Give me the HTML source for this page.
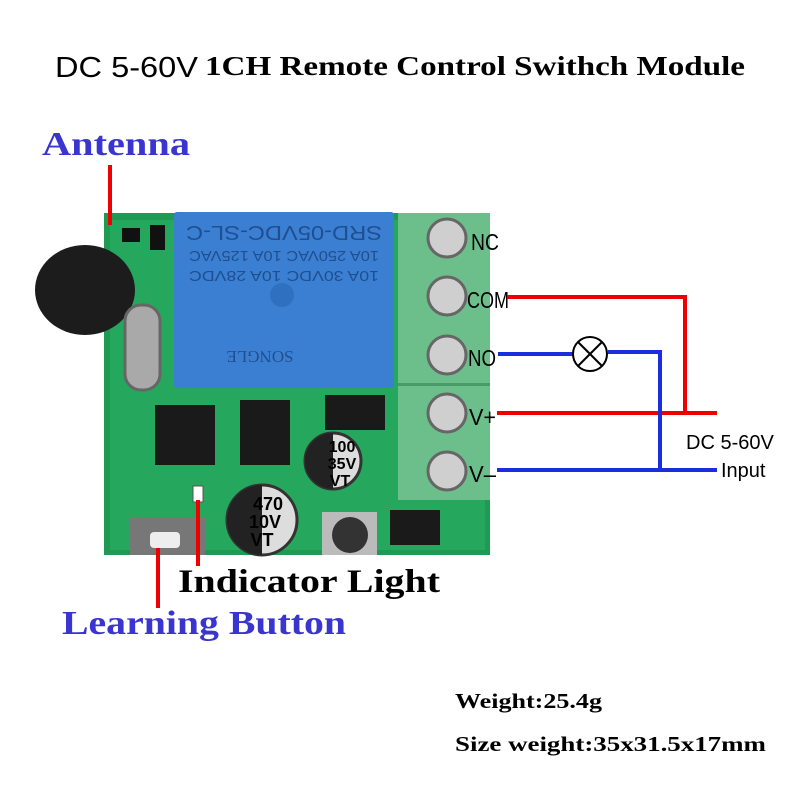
<!DOCTYPE html>
<html><head><style>body{margin:0;background:#fff;}svg{display:block}</style></head><body>
<svg width="800" height="800" viewBox="0 0 800 800" xmlns="http://www.w3.org/2000/svg">
<text x="55" y="77" font-family="Liberation Sans, sans-serif" font-size="29" textLength="143" lengthAdjust="spacingAndGlyphs" fill="#000">DC 5-60V</text>
<text x="205" y="75" font-family="Liberation Serif, serif" font-weight="bold" font-size="27" textLength="540" lengthAdjust="spacingAndGlyphs" fill="#000">1CH Remote Control Swithch Module</text>
<text x="42" y="155" font-family="Liberation Serif, serif" font-weight="bold" font-size="34" textLength="148" lengthAdjust="spacingAndGlyphs" fill="#3a35d0">Antenna</text>
<!-- board -->
<rect x="104" y="213" width="386" height="342" fill="#1f9a55"/>
<rect x="110" y="220" width="375" height="330" fill="#25a85e"/>
<!-- relay -->
<rect x="174" y="212" width="220" height="176" rx="3" fill="#3b7fd2"/>
<text x="284" y="238" text-anchor="middle" font-family="Liberation Sans, sans-serif" font-size="20" textLength="196" lengthAdjust="spacingAndGlyphs" fill="#1f4f90" transform="rotate(180 284 232)">SRD-05VDC-SL-C</text>
<text x="284" y="263" text-anchor="middle" font-family="Liberation Sans, sans-serif" font-size="15" textLength="190" lengthAdjust="spacingAndGlyphs" fill="#1f4f90" transform="rotate(180 284 257)">10A 250VAC  10A 125VAC</text>
<text x="284" y="283" text-anchor="middle" font-family="Liberation Sans, sans-serif" font-size="15" textLength="190" lengthAdjust="spacingAndGlyphs" fill="#1f4f90" transform="rotate(180 284 277)">10A 30VDC  10A 28VDC</text>
<text x="260" y="363" text-anchor="middle" font-family="Liberation Serif, serif" font-size="17" fill="#1f4f90" transform="rotate(180 260 357)">SONGLE</text>
<circle cx="282" cy="295" r="12" fill="#2f70c0"/>
<!-- antenna -->
<rect x="108" y="165" width="4" height="60" fill="#e00"/>
<ellipse cx="85" cy="290" rx="50" ry="45" fill="#1c1c1c"/>
<rect x="150" y="225" width="15" height="25" fill="#111"/>
<rect x="122" y="228" width="18" height="14" fill="#111"/>
<!-- crystal -->
<rect x="125" y="305" width="35" height="85" rx="16" fill="#a9a9a9" stroke="#666" stroke-width="3"/>
<!-- chips -->
<rect x="155" y="405" width="60" height="60" fill="#1a1a1a"/>
<rect x="240" y="400" width="50" height="65" fill="#1a1a1a"/>
<rect x="325" y="395" width="60" height="35" fill="#1a1a1a"/>
<rect x="390" y="510" width="50" height="35" fill="#1a1a1a"/>
<!-- caps -->
<circle cx="333" cy="461" r="28" fill="#ddd" stroke="#333" stroke-width="3"/>
<path d="M333 433 A28 28 0 0 0 333 489 Z" fill="#222"/>
<text x="342" y="452" text-anchor="middle" font-family="Liberation Sans,sans-serif" font-size="16" font-weight="bold">100</text>
<text x="342" y="469" text-anchor="middle" font-family="Liberation Sans,sans-serif" font-size="16" font-weight="bold">35V</text>
<text x="340" y="486" text-anchor="middle" font-family="Liberation Sans,sans-serif" font-size="16" font-weight="bold">VT</text>
<circle cx="262" cy="520" r="35" fill="#ddd" stroke="#333" stroke-width="3"/>
<path d="M262 485 A35 35 0 0 0 262 555 Z" fill="#222"/>
<text x="268" y="510" text-anchor="middle" font-family="Liberation Sans,sans-serif" font-size="18" font-weight="bold">470</text>
<text x="265" y="528" text-anchor="middle" font-family="Liberation Sans,sans-serif" font-size="18" font-weight="bold">10V</text>
<text x="262" y="546" text-anchor="middle" font-family="Liberation Sans,sans-serif" font-size="18" font-weight="bold">VT</text>
<rect x="322" y="512" width="55" height="43" fill="#bbb"/>
<circle cx="350" cy="535" r="18" fill="#333"/>
<!-- button -->
<rect x="130" y="518" width="75" height="37" fill="#777"/>
<rect x="150" y="532" width="30" height="16" rx="4" fill="#eee"/>
<rect x="193" y="486" width="10" height="16" fill="#fff" stroke="#555"/>
<!-- terminal -->
<rect x="398" y="213" width="92" height="287" fill="#6cbf8a"/>
<rect x="398" y="383" width="92" height="3" fill="#4a9a68"/>
<g fill="#cfcfcf" stroke="#666" stroke-width="3">
<circle cx="447" cy="238" r="19"/><circle cx="447" cy="296" r="19"/><circle cx="447" cy="355" r="19"/><circle cx="447" cy="413" r="19"/><circle cx="447" cy="471" r="19"/>
</g>
<g font-family="Liberation Sans, sans-serif" font-size="23" fill="#000" lengthAdjust="spacingAndGlyphs">
<text x="471" y="250" textLength="28" lengthAdjust="spacingAndGlyphs">NC</text>
<text x="467" y="308" textLength="42" lengthAdjust="spacingAndGlyphs">COM</text>
<text x="468" y="366" textLength="28" lengthAdjust="spacingAndGlyphs">NO</text>
<text x="469" y="425" textLength="27" lengthAdjust="spacingAndGlyphs">V+</text>
<text x="469" y="482" textLength="27" lengthAdjust="spacingAndGlyphs">V–</text>
</g>
<!-- wires -->
<polyline points="507,297 685,297 685,413" fill="none" stroke="#e00" stroke-width="4"/>
<line x1="497" y1="413" x2="717" y2="413" stroke="#e00" stroke-width="4"/>
<polyline points="498,354 573,354" fill="none" stroke="#1a2ee0" stroke-width="4"/>
<polyline points="608,352 660,352 660,470" fill="none" stroke="#1a2ee0" stroke-width="4"/>
<line x1="497" y1="470" x2="717" y2="470" stroke="#1a2ee0" stroke-width="4"/>
<circle cx="590" cy="354" r="17" fill="#fff" stroke="#000" stroke-width="2"/>
<line x1="578" y1="342" x2="602" y2="366" stroke="#000" stroke-width="2"/>
<line x1="602" y1="342" x2="578" y2="366" stroke="#000" stroke-width="2"/>
<text x="686" y="449" font-family="Liberation Sans, sans-serif" font-size="20">DC 5-60V</text>
<text x="721" y="477" font-family="Liberation Sans, sans-serif" font-size="20">Input</text>
<!-- labels -->
<rect x="156" y="548" width="4" height="60" fill="#e00"/>
<rect x="196" y="500" width="4" height="66" fill="#e00"/>
<text x="178" y="592" font-family="Liberation Serif, serif" font-weight="bold" font-size="33" textLength="262" lengthAdjust="spacingAndGlyphs" fill="#000">Indicator Light</text>
<text x="62" y="634" font-family="Liberation Serif, serif" font-weight="bold" font-size="34" textLength="284" lengthAdjust="spacingAndGlyphs" fill="#3a35d0">Learning Button</text>
<text x="455" y="708" font-family="Liberation Serif, serif" font-weight="bold" font-size="21" textLength="147" lengthAdjust="spacingAndGlyphs">Weight:25.4g</text>
<text x="455" y="751" font-family="Liberation Serif, serif" font-weight="bold" font-size="21" textLength="311" lengthAdjust="spacingAndGlyphs">Size weight:35x31.5x17mm</text>
</svg>
</body></html>
